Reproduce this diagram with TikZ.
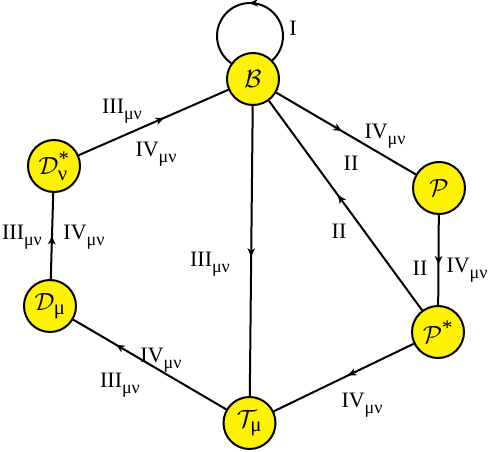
\documentclass[tikz,border=0pt]{standalone}
\usepackage{amsmath}
\usepackage{fontspec}
\setmainfont{Liberation Serif}
\usetikzlibrary{arrows.meta,decorations.markings}
\newcommand{\lsub}[1]{\raisebox{-6pt}{\fontsize{18}{18}\selectfont #1}}
\newcommand{\lab}[1]{#1\lsub{μν}}
\begin{document}
\begin{tikzpicture}[x=1pt,y=1pt,
  st/.style={circle,draw=black,fill=yellow,line width=2pt,minimum size=52pt,inner sep=0pt,font=\fontsize{24.88}{26}\selectfont},
  conn/.style={line width=2pt},
  midarrow/.style={postaction={decorate},decoration={markings,mark=at position #1 with {\arrow{Stealth[length=8.5pt,width=7.5pt,inset=2.5pt]}}}},
  lbl/.style={inner sep=0pt,font=\fontsize{22}{22}\selectfont}]
\useasboundingbox (0,0) rectangle (490,451);
% states
\node[st] (B)  at (253,372) {$\mathcal{B}$};
\node[st] (Dn) at (54,285)  {$\mathcal{D}^{\text{*}}_{\text{ν}}$};
\node[st] (P)  at (439,263) {$\mathcal{P}$};
\node[st] (Dm) at (50,145)  {$\mathcal{D}_{\text{μ}}$};
\node[st] (Ps) at (438,119) {$\mathcal{P}^{\text{*}}$};
\node[st] (T)  at (249.5,28) {$\mathcal{T}_{\text{μ}}$};
% connectors
\draw[conn,midarrow=0.49] (B.44) arc[start angle=-47.2, end angle=235.1, radius=33];
\draw[conn,midarrow=0.57] (Dn) -- (B);
\draw[conn,midarrow=0.47] (B) -- (P);
\draw[conn,midarrow=0.55] (P) -- (Ps);
\draw[conn,midarrow=0.55] (Ps) -- (B);
\draw[conn,midarrow=0.52] (B) -- (T);
\draw[conn,midarrow=0.47] (Ps) -- (T);
\draw[conn,midarrow=0.72] (T) -- (Dm);
\draw[conn,midarrow=0.5] (Dm) -- (Dn);
% labels
\node[lbl] (l0) at (293,423) {I};
\node[lbl] (l1) at (122,340) {\lab{III}};
\node[lbl] (l2) at (156,297) {\lab{IV}};
\node[lbl] (l3) at (385,315) {\lab{IV}};
\node[lbl] (l4) at (351,288) {II};
\node[lbl] (l5) at (420,183) {II};
\node[lbl] (l6) at (467,181) {\lab{IV}};
\node[lbl] (l7) at (339,220) {II};
\node[lbl] (l8) at (210,187) {\lab{III}};
\node[lbl] (l9) at (362,46) {\lab{IV}};
\node[lbl] (l10) at (161,91) {\lab{IV}};
\node[lbl] (l11) at (120,66) {\lab{III}};
\node[lbl] (l12) at (22,214) {\lab{III}};
\node[lbl] (l13) at (84,214) {\lab{IV}};
\end{tikzpicture}
\end{document}
